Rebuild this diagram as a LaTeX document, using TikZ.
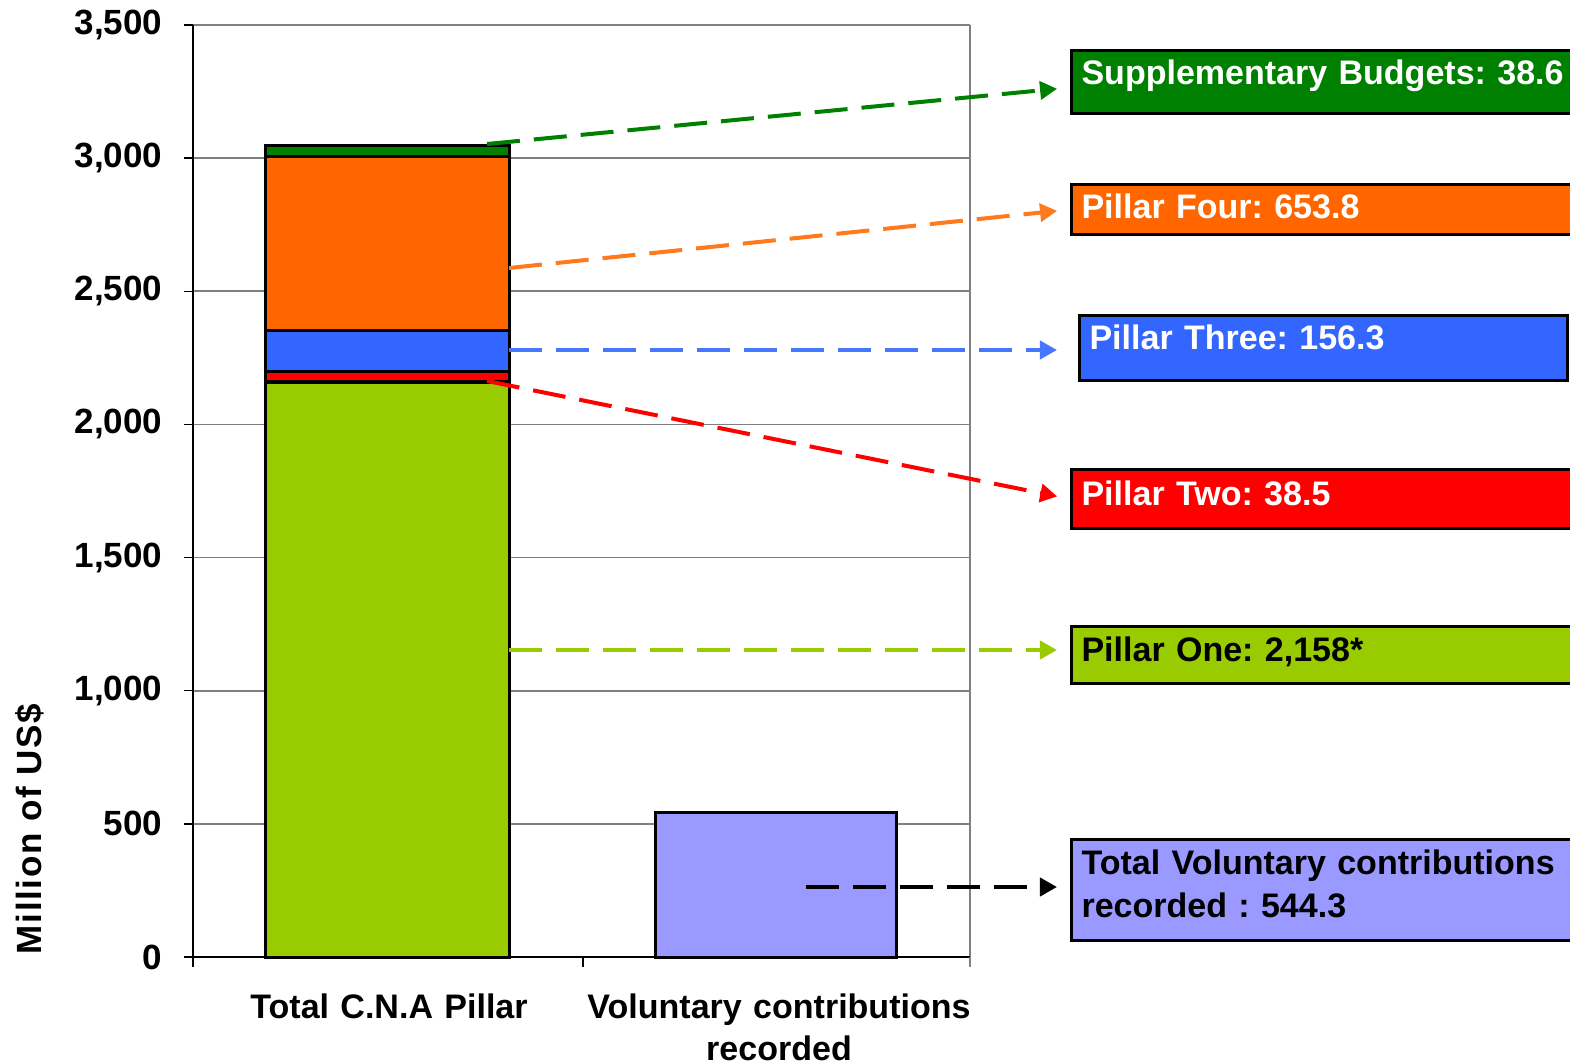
\documentclass[tikz,border=0pt]{standalone}
\usepackage{fontspec}
\setmainfont{Liberation Sans}
\frenchspacing
\usetikzlibrary{arrows.meta, positioning}

\definecolor{sbgreen}{RGB}{0,128,0}
\definecolor{pfour}{RGB}{255,102,0}
\definecolor{pthree}{RGB}{51,102,255}
\definecolor{ptwo}{RGB}{255,0,0}
\definecolor{pone}{RGB}{153,204,0}
\definecolor{volc}{RGB}{153,153,255}
\definecolor{gridc}{RGB}{128,128,128}
\definecolor{leadfour}{RGB}{255,122,30}
\definecolor{leadthree}{RGB}{70,120,255}

\tikzset{
	lbl/.style={draw=black, line width=0.03cm, anchor=north west, inner xsep=0.1cm, inner ysep=0pt, align=left, font=\bfseries\fontsize{0.34cm}{0.43cm}\selectfont},
	seg/.style={draw=black, line width=0.03cm},
	lead/.style={dash pattern=on 0.33cm off 0.14cm, line width=0.04cm, -{Triangle[length=0.17cm, width=0.18cm]}, shorten >=0.13cm},
	ticklbl/.style={anchor=east, inner sep=0pt, font=\bfseries\fontsize{0.35cm}{0.42cm}\selectfont},
	catlbl/.style={anchor=base, inner sep=0pt, text width=4.2cm, align=center, font=\bfseries\fontsize{0.34cm}{0.42cm}\selectfont}
}

\begin{document}
\begin{tikzpicture}[x=0.01cm, y=-0.01cm]
	\useasboundingbox (0,0) rectangle (1570,1064);
	
	\foreach \v in {1,...,7}
		\draw[gridc, line width=0.018cm] (193,{957-133.14*\v}) -- (970,{957-133.14*\v});
	\draw[gridc, line width=0.02cm] (970,25) -- (970,957);
	
	\draw[black, line width=0.015cm] (193,25) -- (193,967);
	\draw[black, line width=0.015cm] (184,957) -- (970,957);
	\foreach \v in {0,...,7}
		\draw[black, line width=0.015cm] (184,{957-133.14*\v}) -- (193,{957-133.14*\v});
	\draw[black, line width=0.015cm] (583,957) -- (583,967);
	\draw[gridc, line width=0.015cm] (970,957) -- (970,967);
	
	\foreach \v/\t in {0/0, 1/500, 2/{1,000}, 3/{1,500}, 4/{2,000}, 5/{2,500}, 6/{3,000}, 7/{3,500}}
		\node[ticklbl] (tick\v) at (163,{957-133.14*\v}) {\t};
	
	\node[rotate=90, inner sep=0pt, font=\bfseries\fontsize{0.35cm}{0.42cm}\selectfont\addfontfeature{LetterSpace=5}] (ytitle) at (30,829) {Million of US\$};
	
	\filldraw[seg, fill=pone] (265,957) rectangle (509,382);
	\filldraw[seg, fill=ptwo] (265,382) rectangle (509,372);
	\filldraw[seg, fill=pthree] (265,372) rectangle (509,331);
	\filldraw[seg, fill=pfour] (265,331) rectangle (509,157);
	\filldraw[seg, fill=sbgreen] (265,157) rectangle (509,146);
	\filldraw[seg, fill=volc] (655,957) rectangle (896,812);
	
	\node[catlbl] (cna) at (389,1018) {Total C.N.A Pillar};
	\node[catlbl] (vol) at (779,1018) {Voluntary contributions\\recorded};
	
	\node[lbl, fill=sbgreen, text=white, text width=5.2cm, text height=0.34cm, text depth=0.29cm] (sb) at (1070,49) {Supplementary Budgets: 38.6};
	\node[lbl, fill=pfour, text=white, text width=5.2cm, text height=0.34cm, text depth=0.16cm] (p4) at (1070,183) {Pillar Four: 653.8};
	\node[lbl, fill=pthree, text=white, text width=4.68cm, text height=0.34cm, text depth=0.31cm] (p3) at (1078,314) {Pillar Three: 156.3};
	\node[lbl, fill=ptwo, text=white, text width=5.2cm, text height=0.36cm, text depth=0.23cm] (p2) at (1070,468) {Pillar Two: 38.5};
	\node[lbl, fill=pone, text=black, text width=5.2cm, text height=0.35cm, text depth=0.22cm] (p1) at (1070,625) {Pillar One: 2,158*};
	\node[lbl, fill=volc, text=black, text width=5.2cm, text height=0.35cm, text depth=0.66cm] (tv) at (1070,838) {Total Voluntary contributions\\recorded : 544.3};
	
	\coordinate (sbst) at (487,144);
	\coordinate (p4st) at (509,268);
	\coordinate (p3st) at (509,350);
	\coordinate (p2st) at (487,381);
	\coordinate (p1st) at (509,650);
	\coordinate (tvst) at (806,887);
	
	\draw[lead, sbgreen] (sbst) -- ([yshift=-0.055cm]sb.west);
	\draw[lead, leadfour] (p4st) -- (p4.west);
	\draw[lead, leadthree, shorten >=0.21cm] (p3st) -- (p3st -| p3.west);
	\draw[lead, ptwo] (p2st) -- (p2.west);
	\draw[lead, pone] (p1st) -- (p1st -| p1.west);
	\draw[lead, black] (tvst) -- (tvst -| tv.west);
\end{tikzpicture}
\end{document}
